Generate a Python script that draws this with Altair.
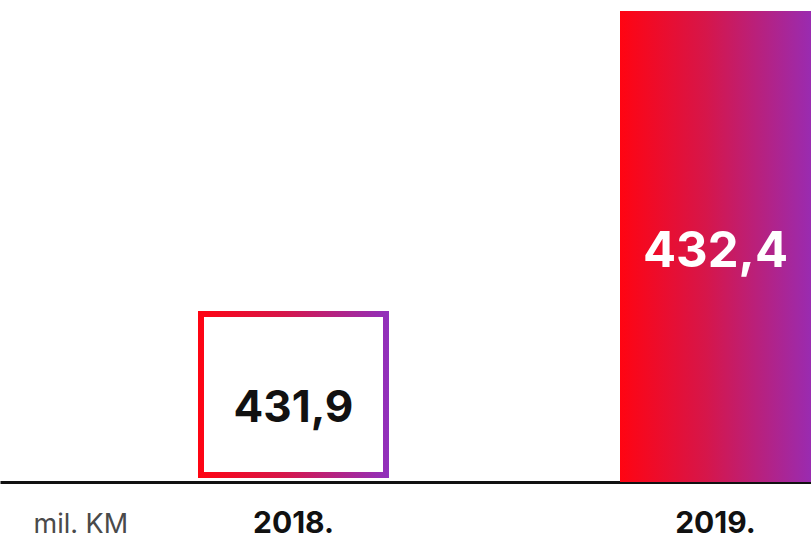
import altair as alt
import pandas as pd

years = ["2018.", "2019."]
values = [431.9, 432.4]
value_labels = ["431,9", "432,4"]
unit_label = "mil. KM"

y_domain = [431.615, 432.4183]
box_base = 431.6217

df = pd.DataFrame({"year": years, "value": values, "label": value_labels})

x_scale = alt.Scale(domain=years, paddingInner=0.5474, paddingOuter=0.2346, align=1)
y_scale = alt.Scale(domain=y_domain, zero=False, nice=False)

grad_fill = alt.Gradient(
    gradient="linear",
    stops=[alt.GradientStop(color="#ff0412", offset=0),
           alt.GradientStop(color="#d6164a", offset=0.45),
           alt.GradientStop(color="#9a2bb0", offset=1)],
    x1=0, x2=1, y1=0, y2=0,
)
grad_box = alt.Gradient(
    gradient="linear",
    stops=[alt.GradientStop(color="#ff0412", offset=0),
           alt.GradientStop(color="#d6164a", offset=0.45),
           alt.GradientStop(color="#9030bd", offset=1)],
    x1=0, x2=1, y1=0, y2=0,
)

x_axis = alt.Axis(
    title=unit_label, titleX=33, titleY=42, titleAlign="left", titleBaseline="middle",
    titleFont="Inter", titleFontWeight="normal", titleFontSize=27, titleColor="#4a4a4a",
    labelAngle=0, ticks=False, domainColor="#111111", domainWidth=3,
    labelFont="Inter", labelFontWeight="bold", labelFontSize=30, labelColor="#111111",
    labelPadding=26, grid=False,
)

base = alt.Chart(df).transform_calculate(
    box_bottom="%f" % box_base,
    plot_bottom="%f" % y_domain[0],
    box_mid="(datum.value + %f) / 2" % box_base,
    bar_mid="(datum.value + %f) / 2" % y_domain[0],
)
f2018 = alt.datum.year == "2018."
f2019 = alt.datum.year == "2019."

box_outer = base.transform_filter(f2018).mark_bar(fill=grad_box).encode(
    x=alt.X("year:N", scale=x_scale, axis=x_axis),
    y=alt.Y("value:Q", scale=y_scale, axis=None),
    y2="box_bottom:Q",
)

box_inner = base.transform_filter(f2018).mark_bar(
    fill="white", width=179, yOffset=6, y2Offset=-6
).encode(
    x=alt.X("year:N", scale=x_scale),
    y=alt.Y("value:Q", scale=y_scale),
    y2="box_bottom:Q",
)

filled = base.transform_filter(f2019).mark_bar(fill=grad_fill).encode(
    x=alt.X("year:N", scale=x_scale),
    y=alt.Y("value:Q", scale=y_scale),
    y2="plot_bottom:Q",
)

txt_2018 = base.transform_filter(f2018).mark_text(
    font="Inter", fontWeight="bold", fontSize=44, color="#111111", baseline="middle", dy=15
).encode(
    x=alt.X("year:N", scale=x_scale),
    y=alt.Y("box_mid:Q", scale=y_scale),
    text="label:N",
)

txt_2019 = base.transform_filter(f2019).mark_text(
    font="Inter", fontWeight="bold", fontSize=49, color="white", baseline="middle", dy=6
).encode(
    x=alt.X("year:N", scale=x_scale),
    y=alt.Y("bar_mid:Q", scale=y_scale),
    text="label:N",
)

chart = alt.layer(box_outer, filled, box_inner, txt_2018, txt_2019).properties(
    width=811, height=482, padding=0,
).configure_view(stroke=None)

chart.save("out.html", embed_options={"renderer": "svg", "actions": False})
